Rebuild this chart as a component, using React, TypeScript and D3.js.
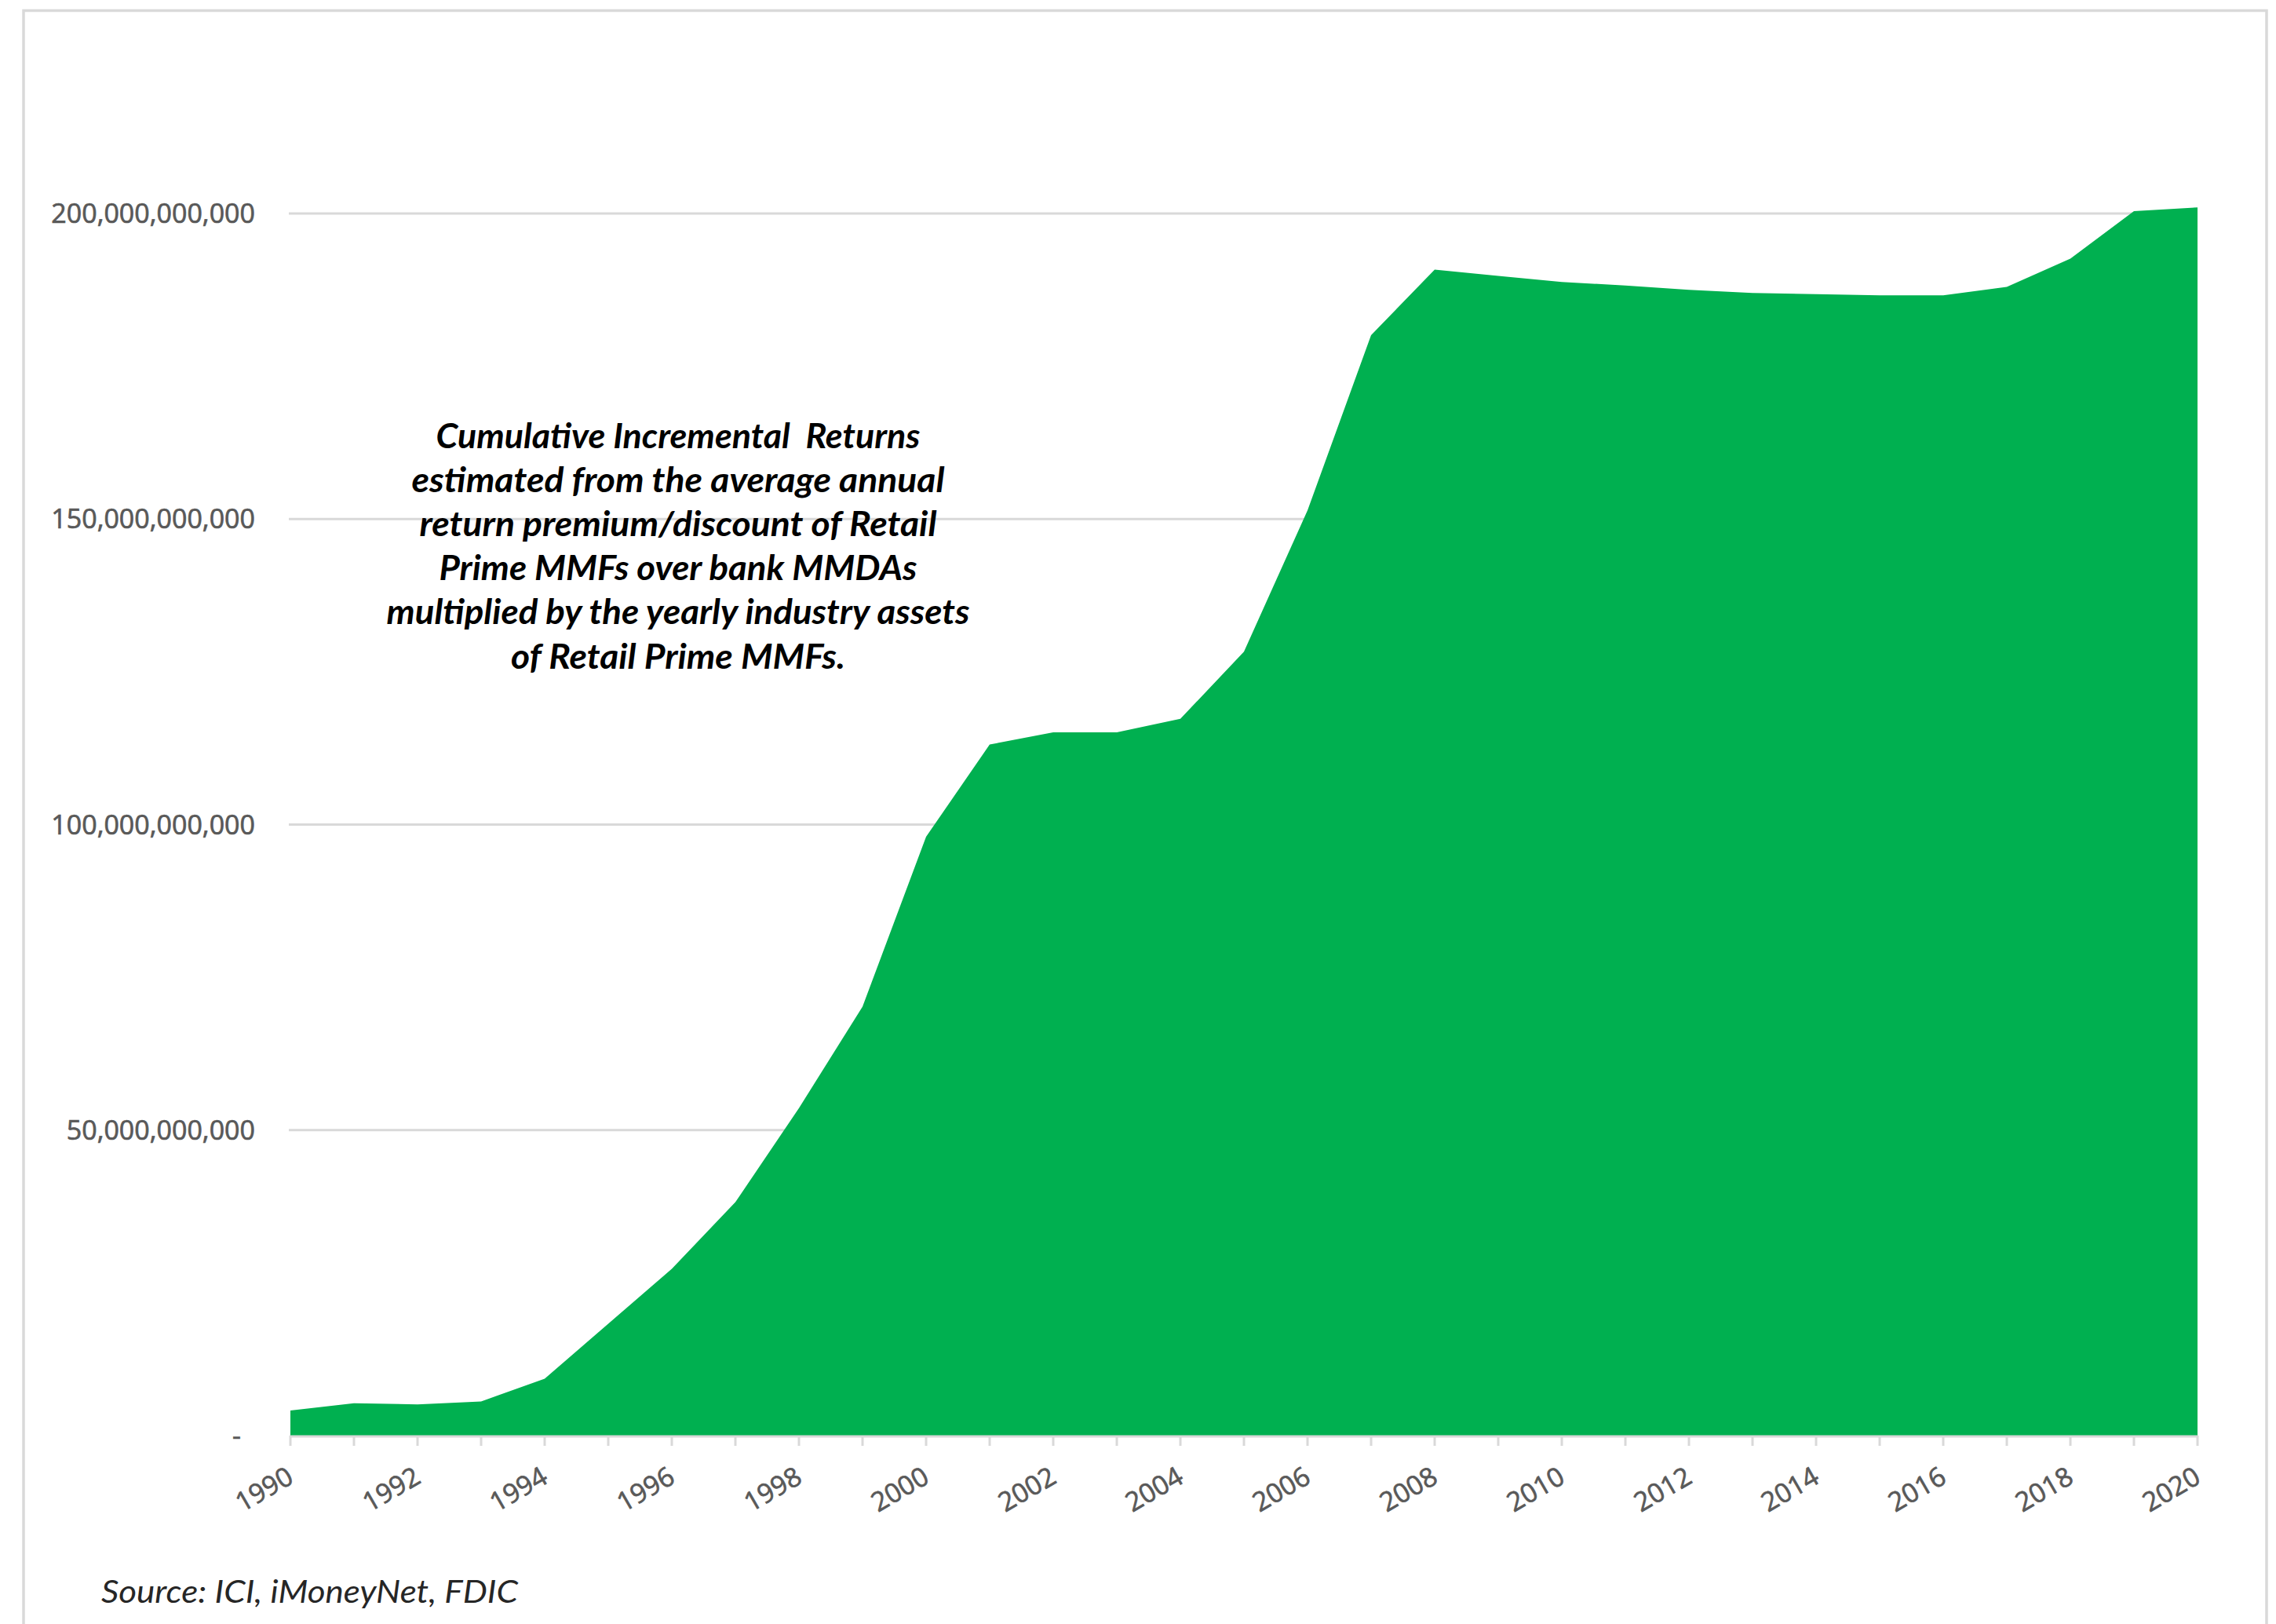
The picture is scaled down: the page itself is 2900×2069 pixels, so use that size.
import React from "react";
import * as d3 from "d3";

const years = [1990, 1991, 1992, 1993, 1994, 1995, 1996, 1997, 1998, 1999, 2000, 2001, 2002, 2003, 2004, 2005, 2006, 2007, 2008, 2009, 2010, 2011, 2012, 2013, 2014, 2015, 2016, 2017, 2018, 2019, 2020];
const valuesBillions = [4.1, 5.3, 5.1, 5.6, 9.3, 18.3, 27.3, 38.2, 53.6, 70.2, 98.0, 113.1, 115.1, 115.1, 117.3, 128.3, 151.4, 180.1, 190.8, 189.8, 188.8, 188.2, 187.5, 187.0, 186.8, 186.6, 186.6, 188.0, 192.6, 200.4, 201.0];
const yTicks = [0, 50e9, 100e9, 150e9, 200e9];
const xLabelYears = [1990, 1992, 1994, 1996, 1998, 2000, 2002, 2004, 2006, 2008, 2010, 2012, 2014, 2016, 2018, 2020];
const noteLines = [
  "Cumulative Incremental  Returns",
  "estimated from the average annual",
  "return premium/discount of Retail",
  "Prime MMFs over bank MMDAs",
  "multiplied by the yearly industry assets",
  "of Retail Prime MMFs.",
];
const noteWidths = [617, 679, 659, 609, 743, 426];
const sourceText = "Source: ICI, iMoneyNet, FDIC";

const W = 2900;
const H = 2069;
const PL = 370, PR = 2800, PB = 1829, PT = 272;
const GREEN = "#00B050";
const GRID = "#d9d9d9";
const LABEL = "#595959";
const FONT = "Lato, 'Open Sans', sans-serif";
const TICK_FONT = "'Open Sans', Lato, sans-serif";

export default function App() {
  const data = years.map((yr, i) => ({ year: yr, value: valuesBillions[i] * 1e9 }));
  const x = d3.scaleLinear().domain([1990, 2020]).range([PL, PR]);
  const y = d3.scaleLinear().domain([0, 200e9]).range([PB, PT]);
  const area = d3
    .area<{ year: number; value: number }>()
    .x((d) => x(d.year))
    .y0(y(0))
    .y1((d) => y(d.value));
  const fmt = d3.format(",");

  return (
    <svg
      width={W}
      height={H}
      style={{ position: "absolute", left: 0, top: 0, display: "block", background: "#fff" }}
    >
      <rect x={0} y={0} width={W} height={H} fill="#fff" />
      <rect x={30} y={13.5} width={2858} height={2200} fill="#fff" stroke={GRID} strokeWidth={3.5} />

      {/* gridlines */}
      {yTicks.filter((t) => t > 0).map((t) => (
        <line key={t} x1={PL - 2} x2={PR} y1={y(t)} y2={y(t)} stroke={GRID} strokeWidth={3} />
      ))}

      {/* area */}
      <path d={area(data) || ""} fill={GREEN} />

      {/* x axis line and ticks */}
      <line x1={PL - 1} x2={PR + 1} y1={PB + 1} y2={PB + 1} stroke={GRID} strokeWidth={3} />
      {years.map((yr) => (
        <line key={yr} x1={x(yr)} x2={x(yr)} y1={PB} y2={PB + 13} stroke={GRID} strokeWidth={3} />
      ))}

      {/* y labels */}
      {yTicks.map((t) =>
        t === 0 ? (
          <text key={t} x={307} y={y(t)} dy="0.35em" textAnchor="end" fontFamily={TICK_FONT} fontSize={34} fill={LABEL} stroke={LABEL} strokeWidth={0.7}>
            -
          </text>
        ) : (
          <text key={t} x={325} y={y(t)} dy="0.36em" textAnchor="end" fontFamily={TICK_FONT} fontSize={34} fill={LABEL} stroke={LABEL} strokeWidth={0.7}>
            {fmt(t)}
          </text>
        )
      )}

      {/* x labels */}
      {xLabelYears.map((yr) => (
        <text
          key={yr}
          transform={`translate(${x(yr) + 6},${1888}) rotate(-30)`}
          textAnchor="end"
          fontFamily={TICK_FONT}
          fontSize={34}
          fill={LABEL}
          stroke={LABEL}
          strokeWidth={0.7}
        >
          {yr}
        </text>
      ))}

      {/* annotation */}
      {noteLines.map((line, i) => (
        <text
          key={i}
          x={864}
          y={571 + i * 56.1}
          textAnchor="middle"
          fontFamily={FONT}
          fontSize={43}
          fontWeight="bold"
          fontStyle="italic"
          fill="#000"
          textLength={noteWidths[i]}
          lengthAdjust="spacingAndGlyphs"
          style={{ whiteSpace: "pre" }}
        >
          {line}
        </text>
      ))}

      {/* source */}
      <text
        x={129}
        y={2042}
        fontFamily={FONT}
        fontSize={40}
        fontStyle="italic"
        fill="#262626"
        textLength={531}
        lengthAdjust="spacingAndGlyphs"
      >
        {sourceText}
      </text>
    </svg>
  );
}
